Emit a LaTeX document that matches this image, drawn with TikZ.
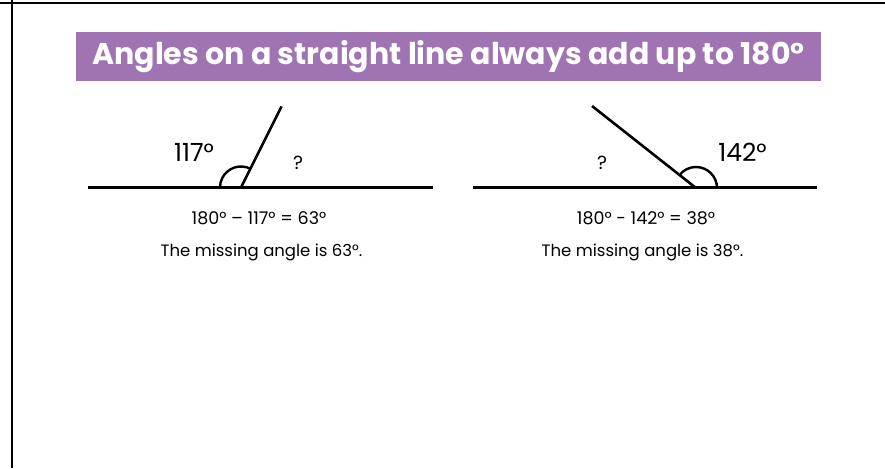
\documentclass[tikz,border=0pt]{standalone}
\usepackage{fontspec}
\setmainfont{Poppins}
\definecolor{titlepurple}{RGB}{160,116,178}
\tikzset{
  angleline/.style={line width=3pt},
  armline/.style={line width=2.6pt},
  anglearc/.style={line width=2.4pt},
}

\begin{document}
\begin{tikzpicture}[x=1pt,y=1pt]
  \useasboundingbox (0,0) rectangle (885,468);
  % Frame
  \draw[line width=2.5pt] (0,465) -- (885,465);
  \draw[line width=2.5pt] (12,468) -- (12,0);

  % Title
  \node[fill=titlepurple, text=white, minimum width=745pt, minimum height=49pt,
        font=\bfseries\fontsize{30}{34}\selectfont] (title) at (448.5,411.5)
        {Angles on a straight line always add up to 180°};

  % left line
  \coordinate (la) at (88,280.5);
  \coordinate (lb) at (433,280.5);
  \coordinate (lv) at (241,280.5);
  \coordinate (lr) at (281.5,361.5);
  \draw[angleline] (la) -- (lb);
  \draw[armline] (lv) -- (lr);
  \draw[anglearc] (lv) ++(63.4:21) arc[start angle=63.4, end angle=180, radius=21];
  \node[font=\fontsize{25}{28}\selectfont] (lknown) at (194,316) {117°};
  \node[font=\fontsize{19}{22}\selectfont] (lquery) at (298,305) {?};
  \node[font=\fontsize{17.5}{20}\selectfont] (lcalc) at (259,250) {180° – 117° = 63°};
  \node[font=\fontsize{16.5}{20}\selectfont] (lanswer) at (261.5,216) {The missing angle is 63°.};

  % right line
  \coordinate (ra) at (473,280);
  \coordinate (rb) at (817,280);
  \coordinate (rv) at (696,280);
  \coordinate (rr) at (592,362);
  \draw[angleline] (ra) -- (rb);
  \draw[armline] (rv) -- (rr);
  \draw[anglearc] (rv) ++(0:21) arc[start angle=0, end angle=141.7, radius=21];
  \node[font=\fontsize{25}{28}\selectfont] (rknown) at (742.5,316) {142°};
  \node[font=\fontsize{19}{22}\selectfont] (rquery) at (602,305) {?};
  \node[font=\fontsize{17.5}{20}\selectfont] (rcalc) at (646,250) {180° - 142° = 38°};
  \node[font=\fontsize{16.5}{20}\selectfont] (ranswer) at (642.5,216) {The missing angle is 38°.};
\end{tikzpicture}
\end{document}
